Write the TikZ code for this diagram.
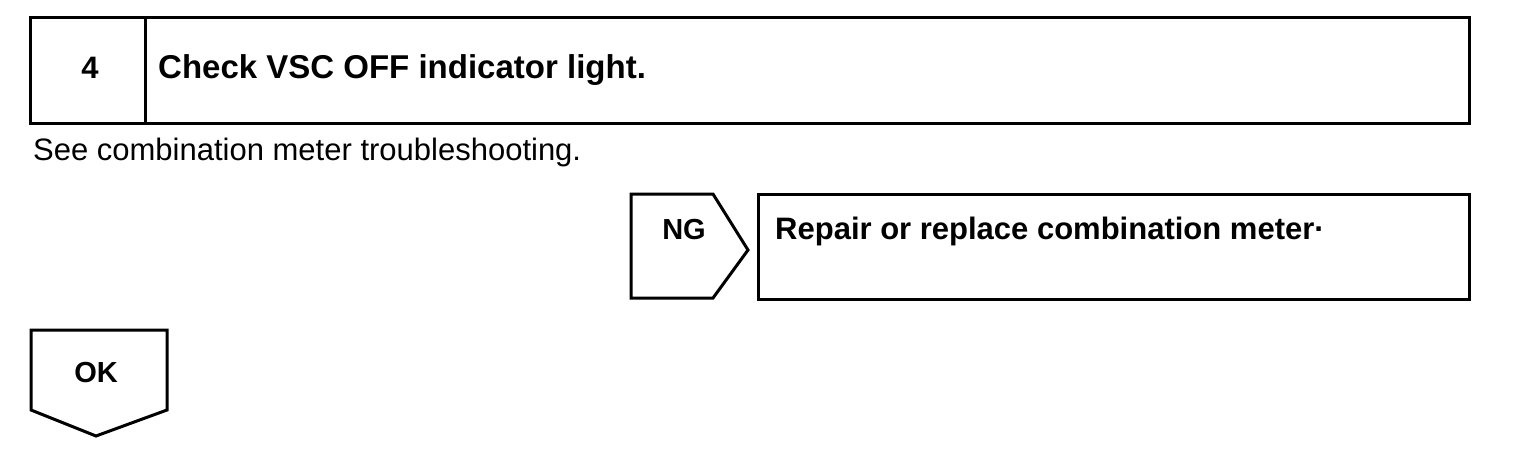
\documentclass[tikz,border=0pt]{standalone}
\usepackage{fontspec}
\setmainfont{Liberation Sans}
\begin{document}
\begin{tikzpicture}[x=1pt,y=-1pt,
  frame/.style={draw=black,line width=3pt,line join=miter},
  boldtxt/.style={font=\fontsize{33}{36}\selectfont\bfseries,anchor=base west,inner sep=0pt},
  plaintxt/.style={font=\fontsize{31}{34}\selectfont,anchor=base west,inner sep=0pt},
  tagtxt/.style={font=\fontsize{29}{32}\selectfont\bfseries,anchor=base,inner sep=0pt}]
\useasboundingbox (0,0) rectangle (1520,450);
% top step box
\draw[frame] (30,17) rectangle (1469,123);
\draw[frame] (145,17) -- (145,123);
\node[tagtxt,font=\fontsize{31}{34}\selectfont\bfseries] (num) at (90,78) {4};
\node[boldtxt] (title) at (158,78) {Check VSC OFF indicator light.};
\node[plaintxt] (note) at (33,160) {See combination meter troubleshooting.};
% NG pentagon
\draw[frame] (631,194) -- (713,194) -- (748,250) -- (713,298) -- (631,298) -- cycle;
\node[tagtxt] (ng) at (684,239) {NG};
% Repair box
\draw[frame] (758,194) rectangle (1469,299);
\node[boldtxt,font=\fontsize{31}{34}\selectfont\bfseries] (repair) at (775,239) {Repair or replace combination meter·};
% OK pentagon
\draw[frame] (31,330) -- (167,330) -- (167,410) -- (96,436) -- (31,410) -- cycle;
\node[tagtxt] (ok) at (96,382) {OK};
\end{tikzpicture}
\end{document}
